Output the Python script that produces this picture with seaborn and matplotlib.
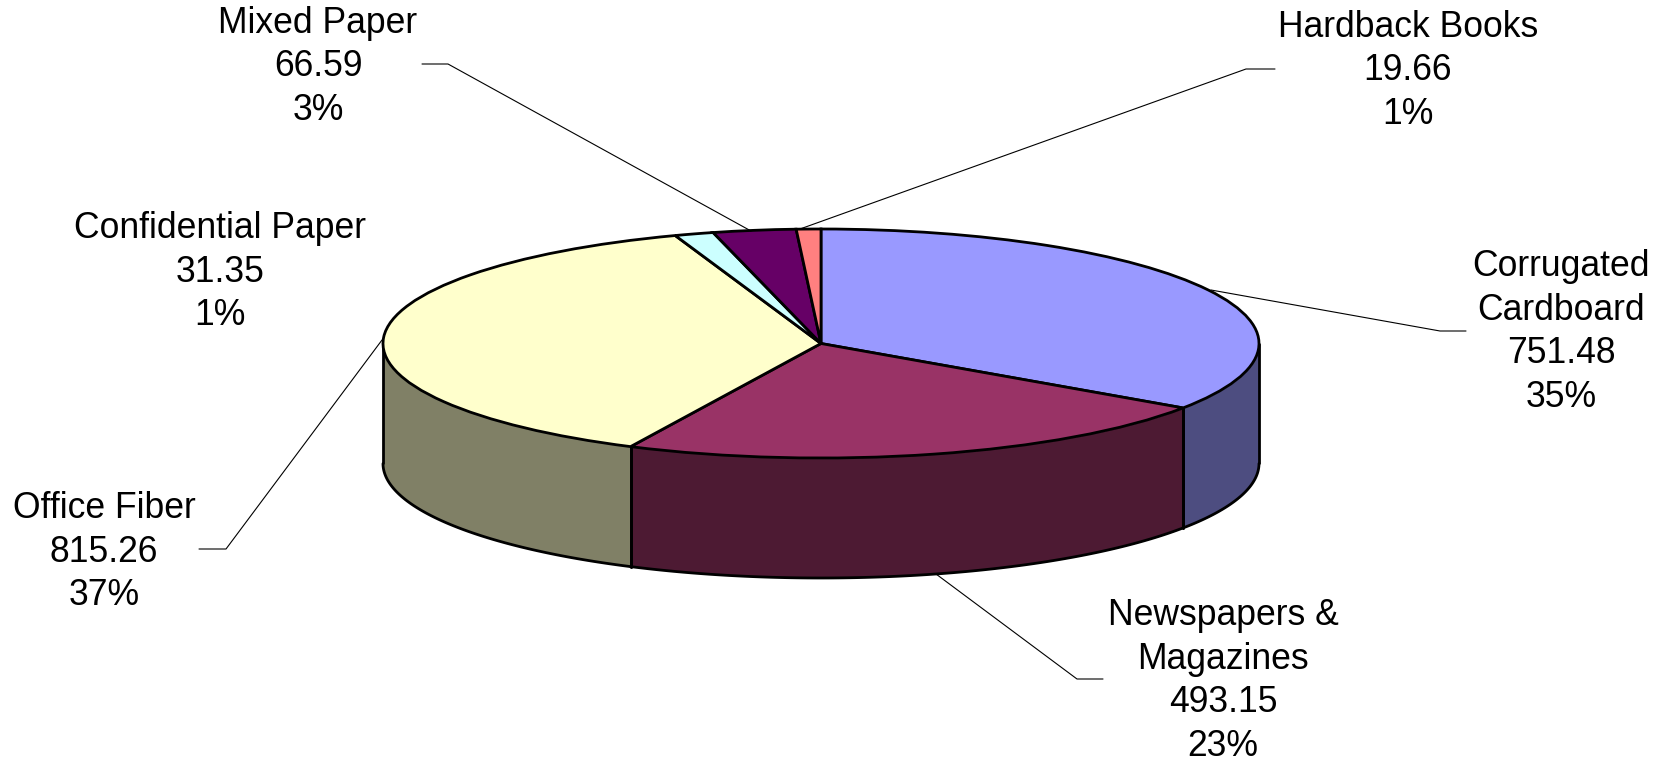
import numpy as np
import matplotlib
matplotlib.use("Agg")
import matplotlib.pyplot as plt
import seaborn as sns

# data
categories = ["Corrugated\nCardboard", "Newspapers &\nMagazines", "Office Fiber",
              "Confidential Paper", "Mixed Paper", "Hardback Books"]
tons = [751.48, 493.15, 815.26, 31.35, 66.59, 19.66]
percents = ["35%", "23%", "37%", "1%", "3%", "1%"]

top_colors = ["#9999FF", "#993366", "#FFFFCC", "#CCFFFF", "#660066", "#FF8080"]
side_colors = ["#4D4D80", "#4D1A33", "#808066", "#668080", "#330033", "#804040"]

W, H = 1662, 761
cx, cy = 821, 343.5     # ellipse centre, px
rx, ry = 438, 114.5     # ellipse radii, px
depth = 120 / ry        # pie height in y units

sns.set_theme(style="white")
plt.rcParams["font.family"] = ["Liberation Sans", "DejaVu Sans"]

fig = plt.figure(figsize=(W / 100, H / 100), dpi=100)
ax = fig.add_axes([0, 0, 1, 1])

wedges, _ = ax.pie(tons, colors=top_colors, startangle=90, counterclock=False,
                   wedgeprops=dict(edgecolor="black", linewidth=2, zorder=3))

# squash the pie into an ellipse, one unit = rx / ry pixels
ax.set_aspect("auto")
ax.set_xlim(-cx / rx, (W - cx) / rx)
ax.set_ylim(-(H - cy) / ry, cy / ry)
ax.axis("off")

# side walls, only the front half of the pie shows
for w, col in zip(wedges, side_colors):
    a1, a2 = w.theta1 % 360, w.theta2 % 360
    if a2 <= a1:
        a2 += 360
    for lo, hi in [(a1, a2), (a1 - 360, a2 - 360)]:
        lo, hi = max(lo, -180), min(hi, 0)
        if hi <= lo:
            continue
        t = np.radians(np.linspace(lo, hi, 120))
        x = np.cos(t)
        y = np.sin(t)
        ax.fill_between(x, y, y - depth, color=col, linewidth=0, zorder=1)
        ax.plot(x, y - depth, color="black", lw=2, zorder=2)
        ax.plot([x[0], x[0]], [y[0], y[0] - depth], color="black", lw=2, zorder=2)
        ax.plot([x[-1], x[-1]], [y[-1], y[-1] - depth], color="black", lw=2, zorder=2)


def to_xy(px, py):
    return (px - cx) / rx, (cy - py) / ry


# label centre and leader line, pixels in the reference
label_pos = [(1561, 332), (1223, 681), (104, 552), (220, 272), (318, 67), (1408, 71)]
leaders = [
    [(1211, 290), (1440, 331), (1466, 331)],
    [(936, 574), (1077, 679), (1103, 679)],
    [(382, 340), (226, 549), (199, 549)],
    None,
    [(751, 231), (448, 64), (422, 64)],
    [(800, 229), (1246, 69), (1275, 69)],
]

for name, v, p, pos, line in zip(categories, tons, percents, label_pos, leaders):
    lx, ly = to_xy(*pos)
    ax.text(lx, ly, f"{name}\n{v:.2f}\n{p}", ha="center", va="center",
            fontsize=25.6, color="black", linespacing=1.31, zorder=5)
    if line:
        pts = np.array([to_xy(*q) for q in line])
        ax.plot(pts[:, 0], pts[:, 1], color="black", lw=0.8, zorder=4)

fig.savefig("out.png", dpi=100, facecolor="white")
